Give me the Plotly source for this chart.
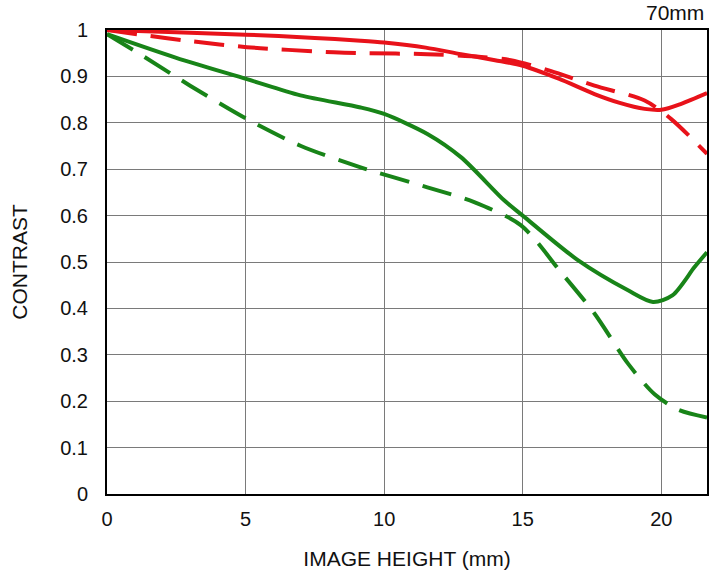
import plotly.graph_objects as go

# Image height (mm) and contrast values
red_solid_x = [0, 2.5, 5, 7.5, 9.15, 10, 11.5, 12.77, 14, 15, 16.3, 17.59, 18.5, 19.4, 20, 20.72, 21.65]
red_solid_y = [1.0, 0.995, 0.99, 0.983, 0.977, 0.973, 0.962, 0.948, 0.935, 0.923, 0.895, 0.862, 0.843, 0.830, 0.828, 0.841, 0.864]

red_dash_x = [0, 1.2, 2.88, 5.05, 8.18, 9.15, 11.56, 13.5, 14.57, 16.0, 17.59, 19.4, 20.36, 21.65]
red_dash_y = [1.0, 0.99, 0.977, 0.963, 0.952, 0.950, 0.948, 0.942, 0.935, 0.912, 0.880, 0.848, 0.808, 0.733]

green_solid_x = [0, 2.5, 5.05, 6.98, 9.15, 10, 11.56, 12.77, 14.33, 15, 16.99, 18.8, 19.7, 20.4, 21.2, 21.65]
green_solid_y = [0.991, 0.94, 0.894, 0.859, 0.833, 0.819, 0.776, 0.726, 0.633, 0.600, 0.504, 0.439, 0.414, 0.428, 0.489, 0.521]

green_dash_x = [0, 1.19, 3.0, 5.05, 7.0, 9.15, 11.56, 13.25, 14.94, 16.38, 17.59, 18.8, 19.76, 20.6, 21.65]
green_dash_y = [0.991, 0.948, 0.88, 0.808, 0.75, 0.704, 0.661, 0.629, 0.579, 0.478, 0.389, 0.281, 0.215, 0.182, 0.165]

x_ticks = [0, 5, 10, 15, 20]
y_ticks = [0, 0.1, 0.2, 0.3, 0.4, 0.5, 0.6, 0.7, 0.8, 0.9, 1]
y_tick_labels = ["0", "0.1", "0.2", "0.3", "0.4", "0.5", "0.6", "0.7", "0.8", "0.9", "1"]

RED = "#e8121a"
GREEN = "#188418"
DASH = "30px,14px"

fig = go.Figure()
fig.add_trace(go.Scatter(x=green_dash_x, y=green_dash_y, mode="lines",
                         line=dict(color=GREEN, width=4, dash=DASH, shape="spline", smoothing=0.8)))
fig.add_trace(go.Scatter(x=green_solid_x, y=green_solid_y, mode="lines",
                         line=dict(color=GREEN, width=4, shape="spline", smoothing=0.8)))
fig.add_trace(go.Scatter(x=red_dash_x, y=red_dash_y, mode="lines",
                         line=dict(color=RED, width=4, dash=DASH, shape="spline", smoothing=0.8)))
fig.add_trace(go.Scatter(x=red_solid_x, y=red_solid_y, mode="lines",
                         line=dict(color=RED, width=4, shape="spline", smoothing=0.8)))

font_family = "'Liberation Sans', Arial, sans-serif"

fig.update_layout(
    width=720, height=570,
    margin=dict(l=107, r=13, t=30, b=76),
    paper_bgcolor="white", plot_bgcolor="white",
    showlegend=False,
    font=dict(family=font_family, size=20, color="#111111"),
    xaxis=dict(range=[0, 21.65], tickvals=x_ticks, showgrid=True, gridcolor="#7a7a7a", gridwidth=1,
               showline=True, linecolor="black", linewidth=2, mirror=True, zeroline=False,
               ticks="outside", ticklen=6, tickcolor="rgba(0,0,0,0)", automargin=False,
               tickfont=dict(size=20),
               title=dict(text="IMAGE HEIGHT (mm)", standoff=22, font=dict(size=21))),
    yaxis=dict(range=[0, 1], tickvals=y_ticks, ticktext=y_tick_labels, showgrid=True,
               gridcolor="#7a7a7a", gridwidth=1, automargin=False,
               showline=True, linecolor="black", linewidth=2, mirror=True, zeroline=False,
               ticks="outside", ticklen=13, tickcolor="rgba(0,0,0,0)",
               tickfont=dict(size=20),
               title=dict(text="CONTRAST", standoff=27, font=dict(size=21))),
    annotations=[dict(text="70mm", xref="paper", yref="paper", x=1.0, y=1.0, xanchor="right",
                      yanchor="middle", yshift=18, xshift=-1, showarrow=False, font=dict(size=21))],
)

fig.write_html("out.html", post_script="document.body.style.margin='0';",
               config={"displayModeBar": False})
